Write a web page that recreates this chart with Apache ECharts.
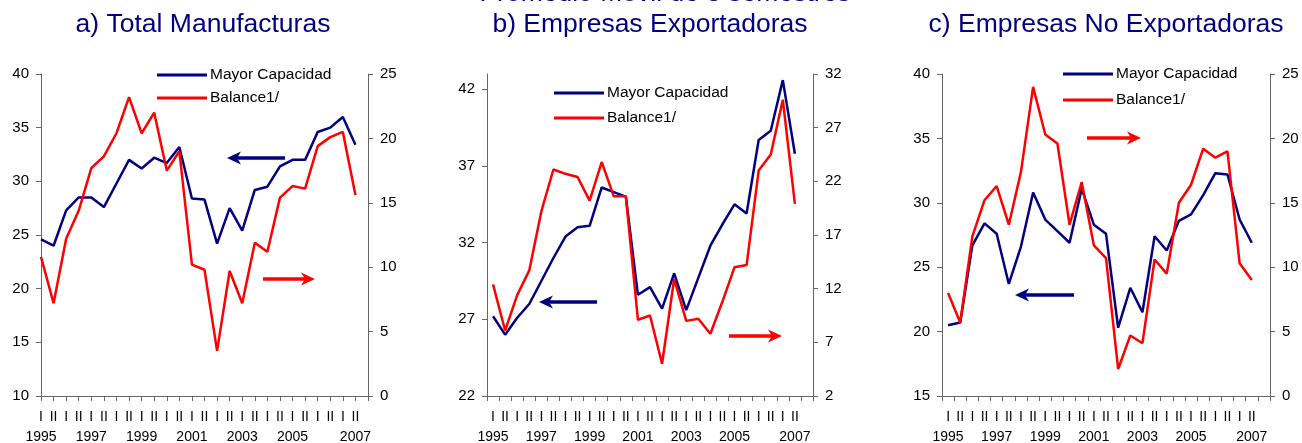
<!DOCTYPE html>
<html>
<head>
<meta charset="utf-8">
<script src="https://cdn.jsdelivr.net/npm/echarts@6/dist/echarts.min.js"></script>
<style>
  html, body { margin: 0; padding: 0; background: #fff; }
  #chart { width: 1302px; height: 443px; }
</style>
</head>
<body>
<div id="chart"></div>
<script>
// semesters 1995-I .. 2007-II, plus one empty slot at the end of each axis
var semesters = ['I','II','I','II','I','II','I','II','I','II','I','II','I','II',
                 'I','II','I','II','I','II','I','II','I','II','I','II',''];
var yearLabels = ['1995','','','','1997','','','','1999','','','','2001','','','',
                  '2003','','','','2005','','','','','2007',''];

// a) Total Manufacturas
var aMayor   = [24.6,24.0,27.3,28.5,28.5,27.6,29.8,32.0,31.2,32.2,31.7,33.2,28.4,
                28.3,24.2,27.5,25.4,29.2,29.5,31.4,32.0,32.0,34.6,35.0,36.0,33.4];
var aBalance = [10.8,7.2,12.2,14.4,17.7,18.6,20.4,23.2,20.4,22.0,17.5,19.0,10.2,
                9.8,3.5,9.7,7.2,11.9,11.2,15.4,16.3,16.1,19.4,20.1,20.5,15.6];
// b) Empresas Exportadoras
var bMayor   = [27.2,26.0,27.1,28.0,29.5,31.0,32.4,33.0,33.1,35.6,35.3,35.0,28.6,
                29.1,27.7,30.0,27.6,29.7,31.8,33.2,34.5,33.9,38.7,39.3,42.6,37.8];
var bBalance = [12.4,8.1,11.4,13.7,19.2,23.1,22.7,22.4,20.2,23.8,20.6,20.6,9.1,
                9.5,5.0,12.9,9.0,9.2,7.8,10.8,14.0,14.2,23.0,24.5,29.6,19.9];
// c) Empresas No Exportadoras
var cMayor   = [20.5,20.7,26.7,28.4,27.6,23.7,26.6,30.8,28.7,27.8,26.9,31.1,28.3,
                27.6,20.3,23.4,21.5,27.4,26.3,28.6,29.1,30.6,32.3,32.2,28.7,26.9];
var cBalance = [8.0,5.7,12.4,15.2,16.3,13.3,17.4,24.0,20.3,19.6,13.3,16.6,11.7,
                10.7,2.1,4.7,4.1,10.6,9.5,15.0,16.4,19.2,18.5,19.0,10.3,9.0];

var bLeftTicks = [22, 27, 32, 37, 42];
var bRightTicks = [2, 7, 12, 17, 22, 27, 32];

var navy = '#000080';
var red = '#ff0000';
var axisGrey = '#666666';
var font = '"Liberation Sans", Arial, sans-serif';

var categories = semesters.map(function (s, i) { return yearLabels[i] + '-' + i; });

function xAxis(grid, gap) {
  return {
    type: 'category', gridIndex: grid, data: categories, boundaryGap: gap,
    axisLine: { lineStyle: { color: axisGrey, width: 1 } },
    axisTick: { show: true, inside: false, length: 5, interval: 0, lineStyle: { color: axisGrey } },
    axisLabel: {
      interval: 0, margin: 11, color: '#000', fontFamily: font, fontSize: 14, lineHeight: 20,
      formatter: function (v, i) { return semesters[i] + '\n' + yearLabels[i]; }
    },
    splitLine: { show: false }
  };
}

function yAxis(grid, pos, min, max, interval, ticks) {
  var ax = {
    type: 'value', gridIndex: grid, position: pos, min: min, max: max, interval: interval,
    axisLine: { show: true, lineStyle: { color: axisGrey, width: 1 } },
    axisTick: { show: true, inside: false, length: 5, lineStyle: { color: axisGrey } },
    axisLabel: { color: '#000', fontFamily: font, fontSize: 15, margin: 12 },
    splitLine: { show: false }
  };
  if (ticks) {
    ax.axisTick.customValues = ticks;
    ax.axisLabel.customValues = ticks;
  }
  return ax;
}

function line(name, data, xi, yi, color) {
  return {
    name: name, type: 'line', xAxisIndex: xi, yAxisIndex: yi, data: data,
    symbol: 'none', lineStyle: { color: color, width: 2.5 }, itemStyle: { color: color }
  };
}

function legend(left, top, gap) {
  return {
    left: left, top: top, orient: 'vertical', padding: 0, icon: 'rect',
    itemWidth: 50, itemHeight: 3, itemGap: gap,
    data: ['Mayor Capacidad', 'Balance1/'],
    textStyle: { color: '#000', fontFamily: font, fontSize: 15.5, lineHeight: 16, padding: [0, 0, 0, -2] }
  };
}

function arrow(x1, y, x2, color) {
  var d = x2 > x1 ? 1 : -1;
  return {
    type: 'group',
    children: [
      { type: 'line', shape: { x1: x1, y1: y, x2: x2 - d * 9, y2: y },
        style: { stroke: color, lineWidth: 3.5 } },
      { type: 'polygon',
        shape: { points: [[x2, y], [x2 - d * 14, y - 6.5], [x2 - d * 10, y], [x2 - d * 14, y + 6.5]] },
        style: { fill: color } }
    ]
  };
}

function title(text, x, y) {
  return { type: 'text', x: x, y: y,
    style: { text: text, fill: navy, font: '26.5px ' + font, align: 'center', verticalAlign: 'middle' } };
}

var chart = echarts.init(document.getElementById('chart'));
chart.setOption({
  animation: false,
  backgroundColor: '#fff',
  grid: [
    { left: 41, top: 74, width: 327, height: 322, outerBoundsMode: 'none' },
    { left: 487, top: 74, width: 326, height: 322, outerBoundsMode: 'none' },
    { left: 942, top: 74, width: 328, height: 322, outerBoundsMode: 'none' }
  ],
  xAxis: [xAxis(0, false), xAxis(1, true), xAxis(2, true)],
  yAxis: [
    yAxis(0, 'left', 10, 40, 5),
    yAxis(0, 'right', 0, 25, 5),
    yAxis(1, 'left', 22, 43, 5, bLeftTicks),
    yAxis(1, 'right', 2, 32, 5, bRightTicks),
    yAxis(2, 'left', 15, 40, 5),
    yAxis(2, 'right', 0, 25, 5)
  ],
  legend: [legend(157, 67, 7), legend(554, 85, 9), legend(1063, 66, 10)],
  series: [
    line('Mayor Capacidad', aMayor, 0, 0, navy),
    line('Balance1/', aBalance, 0, 1, red),
    line('Mayor Capacidad', bMayor, 1, 2, navy),
    line('Balance1/', bBalance, 1, 3, red),
    line('Mayor Capacidad', cMayor, 2, 4, navy),
    line('Balance1/', cBalance, 2, 5, red)
  ],
  graphic: [
    title('Promedio Móvil de 3 semestres', 665, -6),
    title('a) Total Manufacturas', 203, 25),
    title('b) Empresas Exportadoras', 650, 25),
    title('c) Empresas No Exportadoras', 1106, 25),
    arrow(285, 158, 227, navy),
    arrow(263, 279, 315, red),
    arrow(597, 302, 539, navy),
    arrow(729, 336, 782, red),
    arrow(1074, 295, 1015, navy),
    arrow(1087, 138, 1141, red)
  ]
});
</script>
</body>
</html>
